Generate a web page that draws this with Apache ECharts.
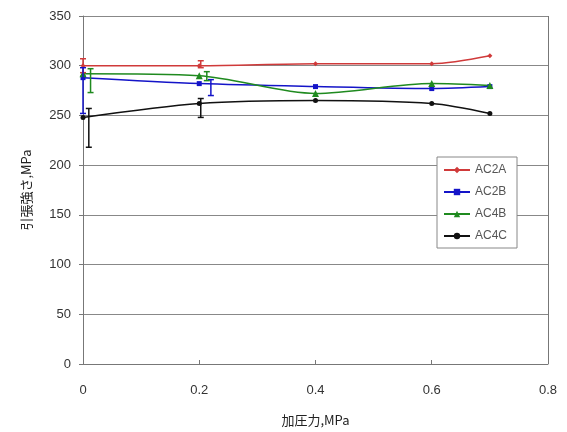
<!DOCTYPE html>
<html lang="ja">
<head>
    <meta charset="UTF-8">
    <title>引張強さ</title>
    <script src="https://cdn.jsdelivr.net/npm/echarts@6.0.0/dist/echarts.min.js"></script>
    <style>
        html, body {
            margin: 0;
            border: 0;
            background: #fff;
        }

        #chart {
            width: 567px;
            height: 432px;
        }
    </style>
</head>
<body>
<div id="chart"></div>
<script type="text/javascript">
    const pressure = [0, 0.2, 0.4, 0.6, 0.7];
    const seriesNames = ['AC2A', 'AC2B', 'AC4B', 'AC4C'];
    const ac2a = [300, 300, 302, 302, 310];
    const ac2b = [288, 282, 279, 277, 279];
    const ac4b = [292, 290, 272, 282, 280];
    const ac4c = [248, 262, 265, 262, 252];
    // error bars: [x, low, high]
    const ac2aErr = [[0, 293, 307], [0.2026, 298, 305]];
    const ac2bErr = [[0, 252, 298], [0.22, 270, 286]];
    const ac4bErr = [[0.013, 273, 297], [0.213, 285, 294]];
    const ac4cErr = [[0.01, 218, 257], [0.2026, 248, 267]];

    const colors = ['#d03a3a', '#1414c8', '#1f8a1f', '#111111'];
    const symbols = ['diamond', 'rect', 'triangle', 'circle'];
    const values = [ac2a, ac2b, ac4b, ac4c];
    const errors = [ac2aErr, ac2bErr, ac4bErr, ac4cErr];

    function errorBar(color) {
        return (params, api) => {
            const top = api.coord([api.value(0), api.value(2)]);
            const bottom = api.coord([api.value(0), api.value(1)]);
            const half = 3;
            const style = {stroke: color, lineWidth: 1.5};
            return {
                type: 'group',
                children: [
                    {type: 'line', shape: {x1: top[0], y1: top[1], x2: bottom[0], y2: bottom[1]}, style},
                    {type: 'line', shape: {x1: top[0] - half, y1: top[1], x2: top[0] + half, y2: top[1]}, style},
                    {type: 'line', shape: {x1: bottom[0] - half, y1: bottom[1], x2: bottom[0] + half, y2: bottom[1]}, style}
                ]
            };
        };
    }

    const series = [];
    seriesNames.forEach((name, i) => {
        series.push({
            name: name,
            type: 'line',
            data: pressure.map((x, j) => [x, values[i][j]]),
            smooth: 0.3,
            symbol: symbols[i],
            symbolSize: i === 2 ? 7 : 5,
            lineStyle: {color: colors[i], width: 1.5},
            itemStyle: {color: colors[i]},
            animation: false,
            z: 3
        });
        series.push({
            name: name + '_err',
            type: 'custom',
            data: errors[i],
            renderItem: errorBar(colors[i]),
            encode: {x: 0, y: [1, 2]},
            animation: false,
            z: 4
        });
    });

    window.onload = () => {
        const chart = echarts.init(document.querySelector('#chart'));
        const axisText = {color: '#333', fontSize: 13, fontFamily: 'Liberation Sans'};
        const option = {
            backgroundColor: '#fff',
            grid: {left: 83, right: 19, top: 16, bottom: 67},
            legend: {
                data: seriesNames,
                orient: 'vertical',
                left: 437,
                top: 157,
                padding: [7, 10, 6, 6],
                itemGap: 10,
                itemWidth: 26,
                itemHeight: 8,
                borderColor: '#888',
                borderWidth: 1,
                backgroundColor: '#fff',
                textStyle: {color: '#555', fontSize: 12, fontFamily: 'Liberation Sans'}
            },
            xAxis: {
                type: 'value',
                min: 0,
                max: 0.8,
                interval: 0.2,
                name: '加圧力,MPa',
                nameLocation: 'middle',
                nameGap: 50,
                nameTextStyle: {color: '#222', fontSize: 13, fontFamily: 'Noto Sans CJK JP'},
                axisLine: {lineStyle: {color: '#777'}},
                axisTick: {inside: true, length: 4, lineStyle: {color: '#777'}},
                axisLabel: Object.assign({margin: 20}, axisText),
                splitLine: {show: false}
            },
            yAxis: {
                type: 'value',
                min: 0,
                max: 350,
                interval: 50,
                name: '引張強さ,MPa',
                nameLocation: 'middle',
                nameGap: 50,
                nameTextStyle: {color: '#222', fontSize: 13, fontFamily: 'Noto Sans CJK JP'},
                axisLine: {show: true, lineStyle: {color: '#777'}},
                axisTick: {show: true, length: 4, lineStyle: {color: '#777'}},
                axisLabel: Object.assign({margin: 12}, axisText),
                splitLine: {lineStyle: {color: '#888', width: 1}}
            },
            series: series.concat([{
                type: 'line',
                data: [],
                markLine: {
                    silent: true,
                    symbol: 'none',
                    label: {show: false},
                    lineStyle: {color: '#777', type: 'solid', width: 1},
                    data: [{xAxis: 0.8}]
                }
            }])
        };
        chart.setOption(option, true);
    }
</script>
</body>
</html>
